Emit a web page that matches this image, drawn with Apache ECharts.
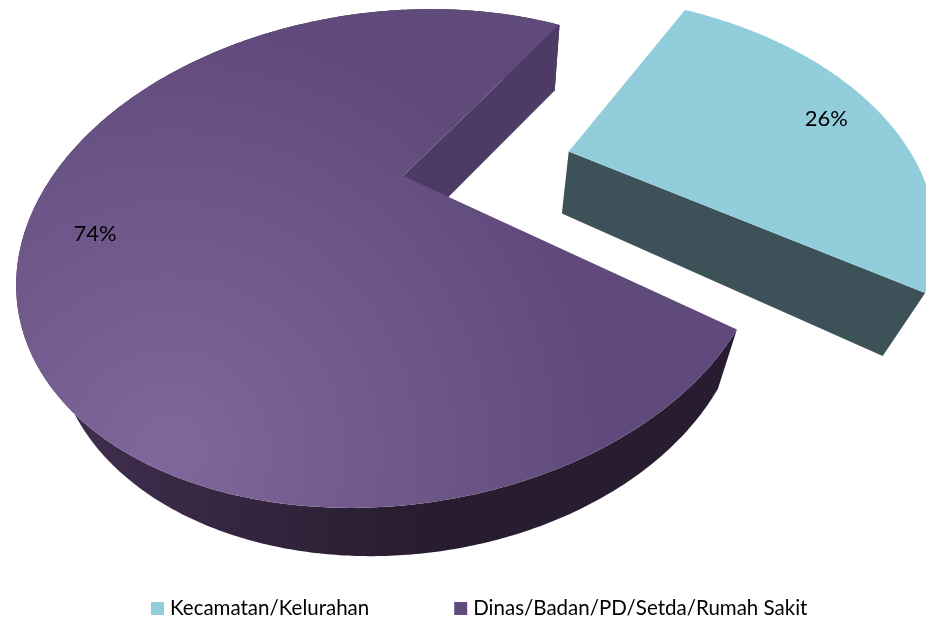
<!DOCTYPE html>
<html>
<head>
<meta charset="utf-8">
<style>html,body{margin:0;padding:0;background:#fff}#c{width:926px;height:621px}</style>
<script src="https://cdn.jsdelivr.net/npm/echarts@6/dist/echarts.min.js"></script>
</head>
<body>
<div id="c"></div>
<script>
// ---- data ----
const categories = ['Kecamatan/Kelurahan', 'Dinas/Badan/PD/Setda/Rumah Sakit'];
const shares = [26.45, 73.55];
const exploded = [0.49, 0];

// ---- style and layout (not data) ----
const startAngle = 29.5;                       // degrees, clockwise from the far side of the disc
const labelPlace = [{r: 0.82, da: 2}, {r: 0.82, da: -3.5}];
const faceColors = ['#92cddc', null];
const legendColors = ['#92cddc', '#604a7b'];
const textFont = 'Lato, "Open Sans", sans-serif';
// projection of the unit disc to the picture: an ellipse plus a perspective centre
const P = {cx: 391, cy: 258.5, mxx: 375, myx: -26.67, myy: 248.07, a: 0.3307, ux: 0.0968, uy: -0.9949};
// the lower face of each slice is an affine image of its upper face
const depth = [
  {sx: 0.9, ox: 50, ky: 0.97045, kx: 0.01476, oy: 58},
  {sx: 0.92, ox: 40, ky: 0.97045, kx: 0.01476, oy: 58}
];

function project(mx, my) {
  const den = 1 + P.a * mx, sq = Math.sqrt(1 - P.a * P.a);
  const lx = (mx + P.a) / den, ly = my * sq / den;
  const pu = lx * P.ux + ly * (-P.uy), pv = lx * P.uy + ly * P.ux;
  return [P.cx + P.mxx * pu, P.cy + P.myx * pu + P.myy * pv];
}
function lowerOf(D) { return p => [D.sx * p[0] + D.ox, D.ky * p[1] + D.kx * p[0] + D.oy]; }
function rad(d) { return d * Math.PI / 180; }

const total = shares.reduce((s, v) => s + v, 0);
const slices = [];
shares.reduce((from, v, i) => {
  const span = v / total * 360;
  slices.push({from, to: from + span, mid: from + span / 2, explode: exploded[i]});
  return from + span;
}, startAngle);

function sliceGeom(s) {
  const ex = s.explode * Math.cos(rad(s.mid)), ey = s.explode * Math.sin(rad(s.mid));
  const at = (r, deg) => project(ex + r * Math.cos(rad(deg)), ey + r * Math.sin(rad(deg)));
  const arc = [];
  const n = Math.ceil(s.to - s.from) * 2;
  for (let k = 0; k <= n; k++) arc.push(at(1, s.from + (s.to - s.from) * k / n));
  return {at, arc, apex: at(0, 0)};
}

function poly(points, fill) {
  return {type: 'polygon', silent: true, shape: {points}, style: {fill, stroke: null}};
}
const R = (x, y, r, c0, c1) => new echarts.graphic.RadialGradient(x, y, r,
  [{offset: 0, color: c0}, {offset: 1, color: c1}], true);
const L = (x0, x1, stops) => new echarts.graphic.LinearGradient(x0, 0, x1, 0, stops, true);

function drawSlice(i) {
  const s = slices[i], g = sliceGeom(s), kids = [], lower = lowerOf(depth[i]);
  const last = g.arc[g.arc.length - 1];
  if (i === 1) {
    const lowArc = g.arc.map(lower);
    const wall = L(100, 420, [
      {offset: 0, color: '#3e2c4c'}, {offset: 0.45, color: '#33253e'}, {offset: 1, color: '#281d30'}]);
    kids.push(poly(g.arc.concat(lowArc.slice().reverse()), wall));
    // the cut wall seen from outside, on the far radial edge
    kids.push(poly([g.apex, last, lower(last), lower(g.apex)], '#4e3b65'));
    kids.push(poly([g.apex].concat(g.arc), R(170, 450, 430, '#81679b', '#604a7b')));
  } else {
    kids.push(poly([g.apex, last, lower(last), lower(g.apex)], '#3d5258'));
    kids.push(poly([g.apex].concat(g.arc), faceColors[i]));
  }
  const lp = g.at(labelPlace[i].r, s.mid + labelPlace[i].da);
  kids.push({type: 'text', silent: true, z2: 10, style: {
    text: Math.round(shares[i]) + '%', x: lp[0], y: lp[1], align: 'center', verticalAlign: 'middle',
    fill: '#000', font: '22px ' + textFont}});
  return {type: 'group', children: kids};
}

const chart = echarts.init(document.getElementById('c'), null, {renderer: 'canvas'});
chart.setOption({
  animation: false,
  backgroundColor: '#fff',
  legend: {
    data: categories, left: 146, top: 593, itemWidth: 13, itemHeight: 13, itemGap: 85,
    icon: 'rect', textStyle: {color: '#000', fontFamily: textFont, fontSize: 20.5, padding: [0, 0, 0, 1]}
  },
  series: categories.map((name, i) => ({
    type: 'custom', name, coordinateSystem: 'none', clip: false, z: 2 - i,
    itemStyle: {color: legendColors[i]},
    data: [shares[i]],
    renderItem: () => drawSlice(i)
  }))
});
</script>
</body>
</html>
